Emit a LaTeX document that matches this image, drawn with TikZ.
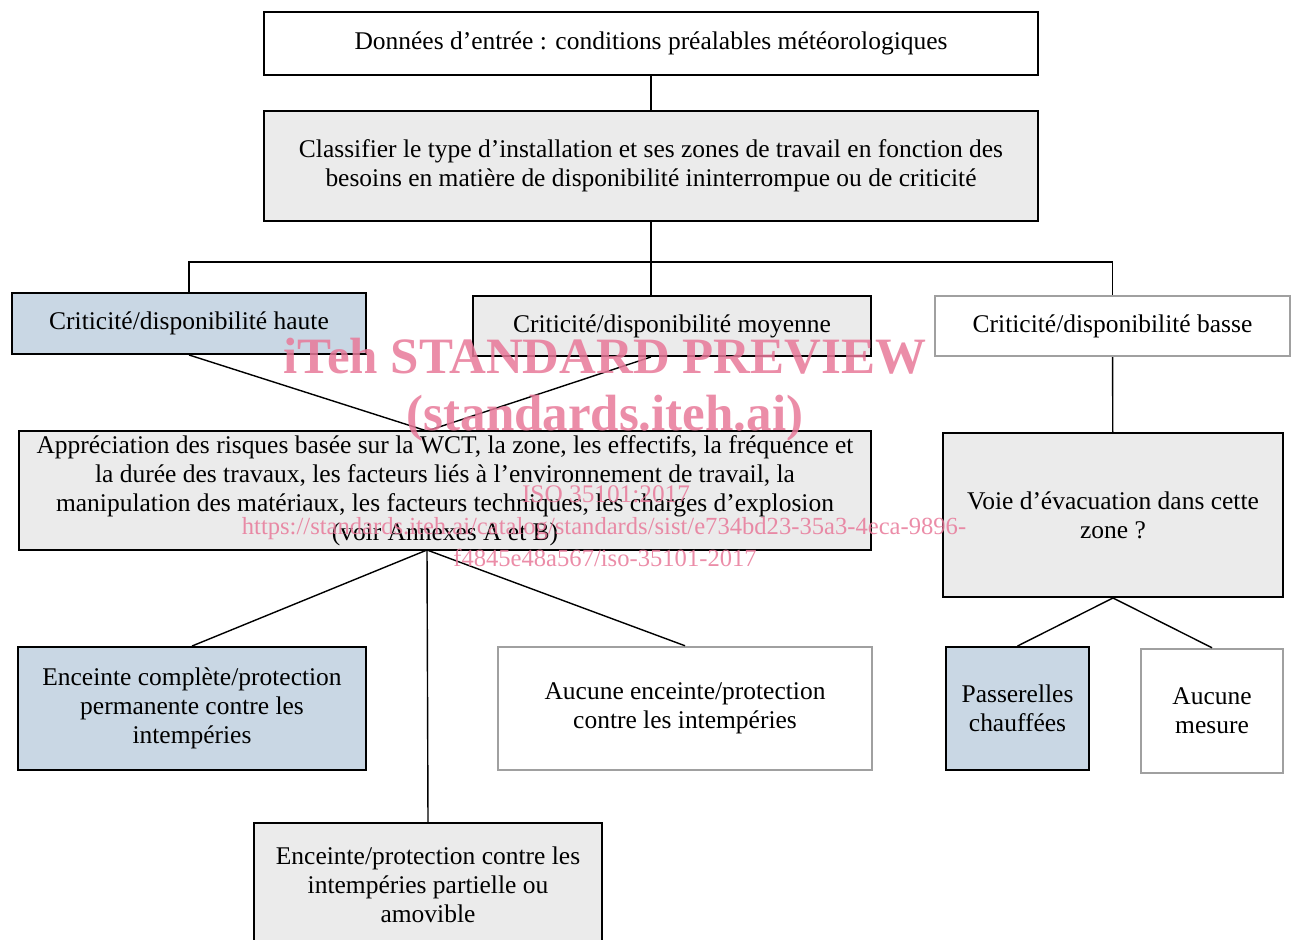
\documentclass[tikz,border=0pt]{standalone}
\usepackage{fontspec}
\setmainfont{Liberation Serif}
\definecolor{boxgray}{RGB}{235,235,235}
\definecolor{boxblue}{RGB}{201,215,228}
\definecolor{edgegray}{RGB}{160,160,160}
\definecolor{markpink}{RGB}{232,121,153}
\begin{document}
\begin{tikzpicture}[
		box/.style={draw=black,line width=1.1pt,align=center,inner sep=0pt,font=\fontsize{14.5}{16.5}\selectfont,execute at begin node={\vspace*{2.8pt}}},
		whitebox/.style={box,fill=white},
		graybox/.style={box,fill=boxgray},
		bluebox/.style={box,fill=boxblue},
		palebox/.style={box,fill=white,draw=edgegray,line width=1.4pt},
		link/.style={line width=0.8pt},
		wmark/.style={text=markpink,opacity=0.85,anchor=base,inner sep=0pt}
	]
			\useasboundingbox (0,0) rectangle (25.84,-18.8);
			\clip (0,0) rectangle (25.84,-18.8);

			\begin{scope}
				\node[whitebox,minimum width=15.48cm,minimum height=1.26cm] (donnees) at (13.02,-0.87) {Données d’entrée~: conditions préalables météorologiques};
				\node[graybox,minimum width=15.48cm,minimum height=2.2cm] (classer) at (13.02,-3.32) {Classifier le type d’installation et ses zones de travail en fonction des\\besoins en matière de disponibilité ininterrompue ou de criticité};
				\node[bluebox,minimum width=7.08cm,minimum height=1.22cm] (haute) at (3.78,-6.47) {Criticité/disponibilité haute};
				\node[graybox,minimum width=7.96cm,minimum height=1.2cm] (moyenne) at (13.44,-6.52) {Criticité/disponibilité moyenne};
				\node[palebox,minimum width=7.1cm,minimum height=1.2cm] (basse) at (22.25,-6.52) {Criticité/disponibilité basse};
				\node[graybox,minimum width=17.04cm,minimum height=2.38cm] (risques) at (8.9,-9.81) {Appréciation des risques basée sur la WCT, la zone, les effectifs, la fréquence et\\la durée des travaux, les facteurs liés à l’environnement de travail, la\\manipulation des matériaux, les facteurs techniques, les charges d’explosion\\(voir Annexes A et B)};
				\node[graybox,minimum width=6.8cm,minimum height=3.28cm] (voie) at (22.26,-10.3) {Voie d’évacuation dans cette\\zone ?};
				\node[bluebox,minimum width=6.96cm,minimum height=2.46cm] (complete) at (3.84,-14.17) {Enceinte complète/protection\\permanente contre les\\intempéries};
				\node[palebox,minimum width=7.48cm,minimum height=2.46cm] (aucune) at (13.7,-14.17) {Aucune enceinte/protection\\contre les intempéries};
				\node[graybox,minimum width=6.96cm,minimum height=2.46cm] (partielle) at (8.56,-17.69) {Enceinte/protection contre les\\intempéries partielle ou\\amovible};
				\node[bluebox,minimum width=2.86cm,minimum height=2.46cm] (passerelles) at (20.35,-14.17) {Passerelles\\chauffées};
				\node[palebox,minimum width=2.84cm,minimum height=2.48cm] (mesure) at (24.24,-14.22) {Aucune\\mesure};
			\end{scope}

			\coordinate (split) at (13.02,-5.24);
			\coordinate (rin) at (8.54,-8.62);
			\coordinate (rout) at (8.54,-11.0);

			\begin{scope}[link]
				\draw (donnees) -- (classer);
				\draw (classer.south) -- (classer.south |- moyenne.north);
				\draw (haute.north) |- (split) -| (basse.north);
				\draw (haute.south) -- (rin);
				\draw (classer.south |- moyenne.south) -- (rin);
				\draw (basse) -- (voie);
				\draw (rout) -- (complete.north);
				\draw (rout) -- (partielle.north);
				\draw (rout) -- (aucune.north);
				\draw (voie.south) -- (passerelles.north);
				\draw (voie.south) -- (mesure.north);
			\end{scope}

			% filigrane
			\node[wmark,font=\fontsize{29}{30}\bfseries\selectfont] (wm1) at (12.1,-7.46) {iTeh STANDARD PREVIEW};
			\node[wmark,font=\fontsize{29}{30}\bfseries\selectfont] (wm2) at (12.1,-8.6) {(standards.iteh.ai)};
			\node[wmark,font=\fontsize{14.4}{15}\selectfont] (wm3) at (12.12,-10.04) {ISO 35101:2017};
			\node[wmark,font=\fontsize{14}{15}\selectfont] (wm4) at (12.08,-10.68) {https://standards.iteh.ai/catalog/standards/sist/e734bd23-35a3-4eca-9896-};
			\node[wmark,font=\fontsize{14}{15}\selectfont] (wm5) at (12.1,-11.32) {f4845e48a567/iso-35101-2017};
		\end{tikzpicture}
\end{document}
